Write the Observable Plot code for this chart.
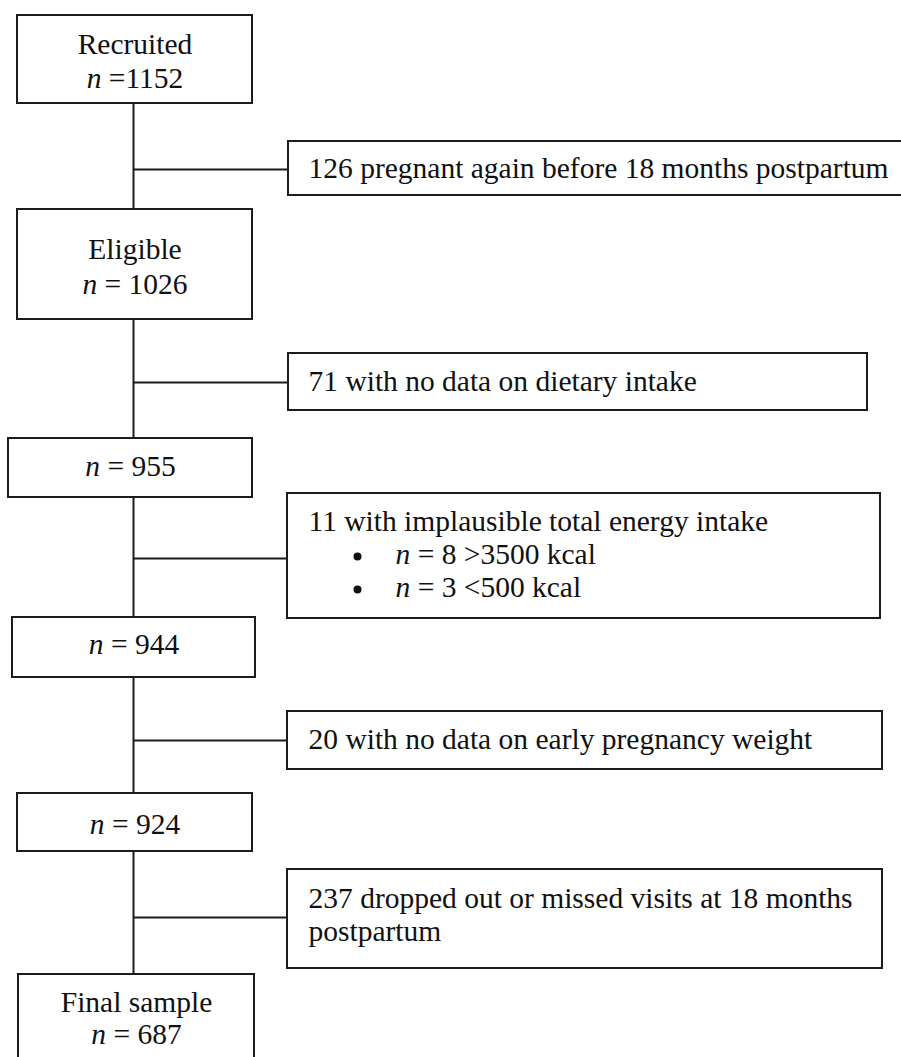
<!DOCTYPE html>
<html><head><meta charset="utf-8">
<script src="https://cdn.jsdelivr.net/npm/d3@7"></script>
<script src="https://cdn.jsdelivr.net/npm/@observablehq/plot@0.6"></script>
<style>body{margin:0;background:#fff} svg text{white-space:pre}</style>
</head><body><div id="chart"></div>
<script>
// ---- data ----
const stageNames = ["Recruited", "Eligible", "", "", "", "Final sample"];
const stageN = [1152, 1026, 955, 944, 924, 687];
const exclusionCounts = [126, 71, 11, 20, 237];
const exclusionReasons = [
  ["pregnant again before 18 months postpartum"],
  ["with no data on dietary intake"],
  ["with implausible total energy intake"],
  ["with no data on early pregnancy weight"],
  ["dropped out or missed visits at 18 months", "postpartum"]
];
const energySubN = [8, 3];
const energySubRule = [">3500 kcal", "<500 kcal"];

// ---- layout (pixels) ----
const stageX1 = [17, 17, 8, 12, 17, 18];
const stageX2 = [252, 252, 252, 255, 252, 254];
const stageY1 = [15, 209, 438, 617, 793, 974];
const stageY2 = [103, 319, 497, 677, 851, 1064];
const stageNameBase = [53, 258, null, null, null, 1011];
const stageNBase = [87, 293, 475, 653, 833, 1043];
const exX1 = [288, 288, 287, 287, 287];
const exX2 = [906, 867, 880, 882, 882];
const exY1 = [141, 353, 493, 711, 869];
const exY2 = [195, 410, 618, 769, 968];
const exLinkY = [169, 382, 558, 740, 917];
const exBase = [[177], [390], [530], [748], [907, 940]];
const subBase = [563, 596];
const spineX = 133;
const textX = 308, bulletX = 357, subTextX = 395;
const FS = 29.5, LINE = "#1c1c1c";
const off = 0.32 * FS; // baseline -> middle anchor

// ---- derived tables ----
const stages = stageN.map((n, i) => ({
  name: stageNames[i], n, x1: stageX1[i], x2: stageX2[i], y1: stageY1[i], y2: stageY2[i],
  cx: (stageX1[i] + stageX2[i]) / 2,
  nText: (i === 0 ? "n =" : "n = ") + n
}));
const spine = stages.slice(0, -1).map((s, i) => ({y1: s.y2, y2: stages[i + 1].y1}));
const exclusions = exclusionCounts.map((c, i) => ({
  count: c, x1: exX1[i], x2: exX2[i], y1: exY1[i], y2: exY2[i], link: exLinkY[i]
}));
const exLines = exclusionReasons.flatMap((lines, i) => lines.map((l, j) => ({
  text: (j === 0 ? exclusionCounts[i] + " " : "") + l, y: exBase[i][j]
})));
const nameLines = stages.map((s, i) => ({text: s.name, x: s.cx, y: stageNameBase[i]})).filter(d => d.text);
const nLines = stages.map((s, i) => ({text: s.nText, x: s.cx, y: stageNBase[i]}));
const subs = energySubN.map((n, i) => ({text: "n = " + n + " " + energySubRule[i], y: subBase[i]}));

const font = "'Liberation Serif', 'Times New Roman', serif";
const chart = Plot.plot({
  width: 901, height: 1057, margin: 0,
  x: {domain: [0, 901], range: [0, 901], axis: null},
  y: {domain: [0, 1057], range: [0, 1057], axis: null},
  style: {background: "white", fontFamily: font},
  marks: [
    Plot.link(spine, {x1: spineX, x2: spineX, y1: "y1", y2: "y2", stroke: LINE, strokeWidth: 2}),
    Plot.link(exclusions, {x1: spineX, x2: "x1", y1: "link", y2: "link", stroke: LINE, strokeWidth: 2}),
    Plot.rect(stages, {x1: "x1", x2: "x2", y1: "y1", y2: "y2", fill: "white", stroke: LINE, strokeWidth: 2}),
    Plot.rect(exclusions, {x1: "x1", x2: "x2", y1: "y1", y2: "y2", fill: "white", stroke: LINE, strokeWidth: 2}),
    Plot.text(nameLines, {x: "x", y: d => d.y - off, text: "text", fontSize: FS, fill: "#111"}),
    Plot.text(nLines, {x: "x", y: d => d.y - off, text: "text", fontSize: FS, fill: "#111"}),
    Plot.text(exLines, {x: textX, y: d => d.y - off, text: "text", textAnchor: "start", fontSize: FS, fill: "#111"}),
    Plot.dot(subs, {x: bulletX, y: d => d.y - 7, r: 4, fill: "#111", stroke: null}),
    Plot.text(subs, {x: subTextX, y: d => d.y - off, text: "text", textAnchor: "start", fontSize: FS, fill: "#111"})
  ]
});

// italic "n"
chart.querySelectorAll("text").forEach(t => {
  const s = t.textContent;
  const m = s.match(/^n( .*)$/);
  if (m) {
    t.textContent = "";
    const a = document.createElementNS("http://www.w3.org/2000/svg", "tspan");
    a.setAttribute("font-style", "italic");
    a.textContent = "n";
    const b = document.createElementNS("http://www.w3.org/2000/svg", "tspan");
    b.textContent = m[1];
    t.appendChild(a); t.appendChild(b);
  }
});
document.getElementById("chart").appendChild(chart);
</script>
</body></html>
